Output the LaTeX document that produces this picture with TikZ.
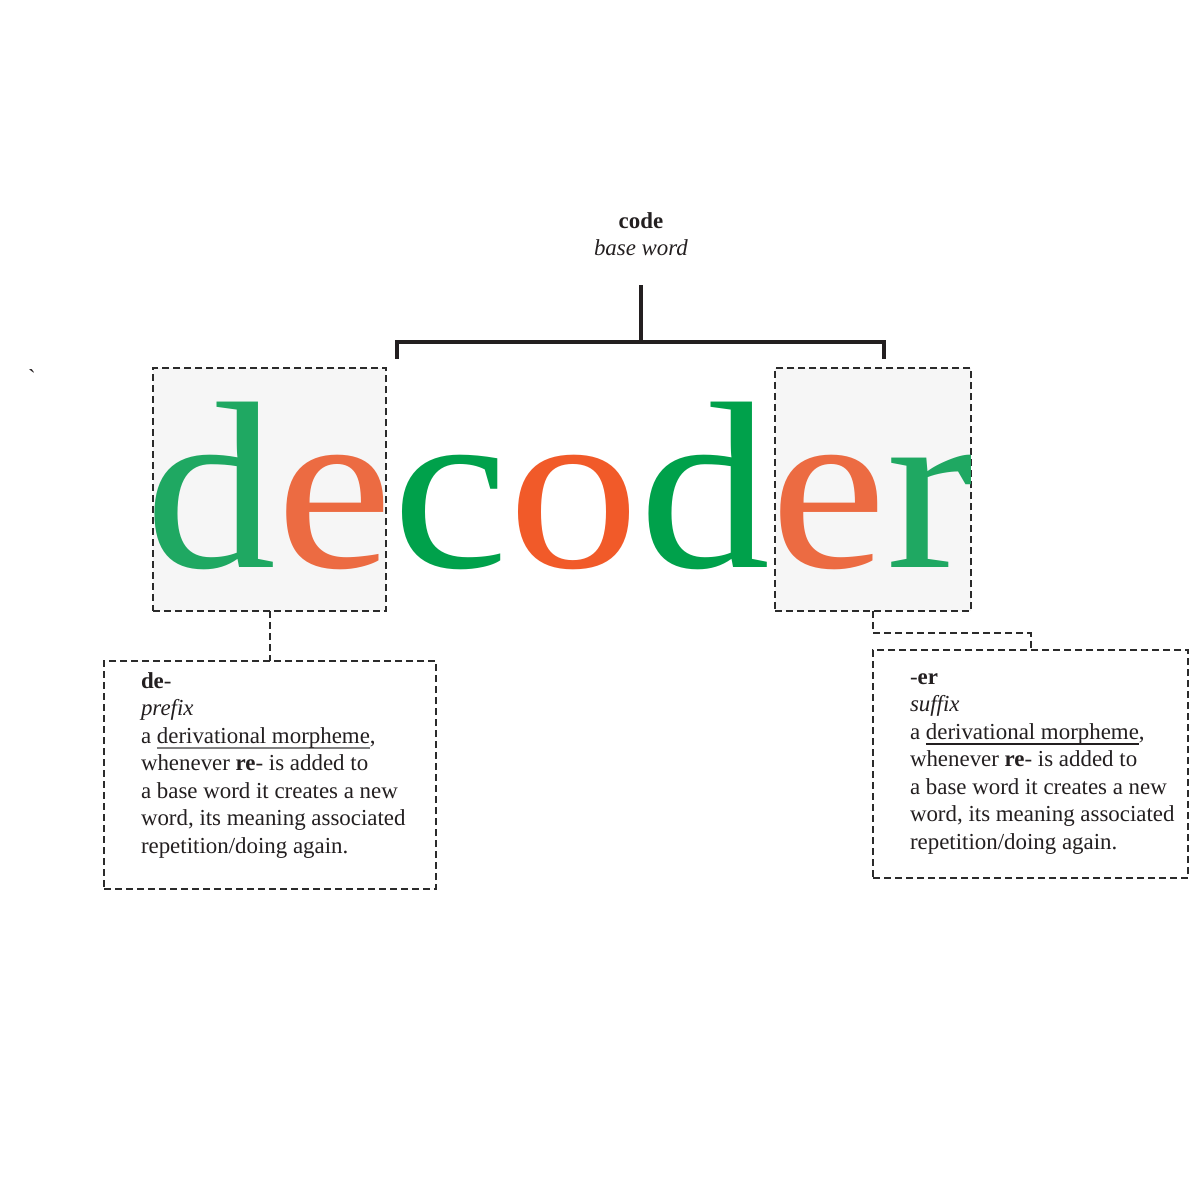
\documentclass[tikz,border=0pt]{standalone}
\usepackage{fontspec}
\setmainfont{Liberation Serif}
\definecolor{gLight}{HTML}{1FA862}
\definecolor{oLight}{HTML}{EC6B42}
\definecolor{gDark}{HTML}{00A14B}
\definecolor{oDark}{HTML}{F15A29}
\definecolor{ink}{HTML}{231F20}
\definecolor{dashc}{HTML}{2B2B2B}
\definecolor{boxfill}{HTML}{F6F6F6}
\definecolor{ulgray}{HTML}{808080}
\newcommand\ulc[2]{\setbox0\hbox{#2}\rlap{\color{#1}\rule[-3pt]{\wd0}{0.8pt}}\box0}
\tikzset{
  dashline/.style={draw=dashc, line width=1pt, dash pattern=on 3.5pt off 2pt},
  graybox/.style={dashline, fill=boxfill, inner sep=0pt, outer sep=0pt},
  textbox/.style={dashline, fill=white, inner sep=0pt, outer sep=0pt, minimum height=114pt},
  bodytext/.style={font=\fontsize{11.45}{13.75}\selectfont, text=ink, inner sep=0pt, outer sep=0pt},
  bracketline/.style={draw=ink, line width=1.75pt}
}
\begin{document}
\begin{tikzpicture}[x=0.5pt,y=-0.5pt]
\useasboundingbox (0,0) rectangle (1200,1200);

% gray boxes behind letters
\node[graybox, minimum width=116.5pt, minimum height=121.5pt] (bL) at (269.5,489.5) {};
\node[graybox, minimum width=98pt, minimum height=121.5pt] (bR) at (873,489.5) {};

% the word
\node[anchor=base west, inner sep=0pt, outer sep=0pt, font=\fontsize{131}{131}\selectfont] (word) at (145,567.5)
  {\scalebox{1}[0.91]{\textcolor{gLight}{d}\textcolor{oLight}{e}\textcolor{gDark}{c}\textcolor{oDark}{o}\textcolor{gDark}{d}\textcolor{oLight}{e}\textcolor{gLight}{r}}};

% base word label
\node[bodytext, anchor=north, align=center] (base) at (641,208.75)
  {\strut\textbf{code}\\\textit{base word}};

% bracket
\coordinate (stem) at (641,285);
\coordinate (brMid) at (641,342);
\coordinate (brL) at (397,357);
\coordinate (brR) at (884,357);
\draw[bracketline] (stem) -- (brMid);
\draw[bracketline, line cap=rect] (brL) -- (brL |- brMid) -- (brR |- brMid) -- (brR);

% stray mark
\node[bodytext, anchor=base] (mark) at (32,385) {\textasciigrave};

% description boxes
\node[textbox, minimum width=166pt] (tL) at (270,775) {};
\node[textbox, minimum width=157.5pt] (tR) at (1030.5,764) {};

\node[bodytext, anchor=north west, align=left] (txtL) at (141,668.75)
  {\strut\textbf{de}-\\
   \textit{prefix}\\
   a \ulc{ulgray}{derivational morpheme},\\
   whenever \textbf{re}- is added to\\
   a base word it creates a new\\
   word, its meaning associated\\
   repetition/doing again.};

\node[bodytext, anchor=north west, align=left] (txtR) at (910,664.75)
  {\strut-\textbf{er}\\
   \textit{suffix}\\
   a \ulc{ink}{derivational morpheme},\\
   whenever \textbf{re}- is added to\\
   a base word it creates a new\\
   word, its meaning associated\\
   repetition/doing again.};

% connectors
\draw[dashline] (bL.south) -- (bL.south |- tL.north);
\draw[dashline] (bR.south) -- ++(0,22) -| (tR.north);
\end{tikzpicture}
\end{document}
